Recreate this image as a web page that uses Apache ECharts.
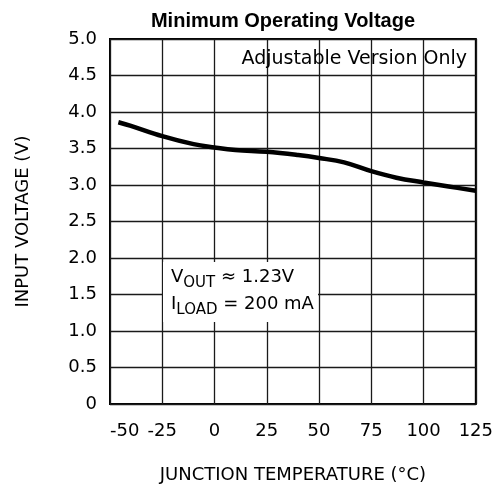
<!DOCTYPE html>
<html>
<head>
<meta charset="utf-8">
<script src="https://cdn.jsdelivr.net/npm/echarts@6/dist/echarts.min.js"></script>
<style>html,body{margin:0;padding:0;background:#fff}#c{width:496px;height:492px}</style>
</head>
<body>
<div id="c"></div>
<script>
var temperature = [-46, -40, -25, -10, 0, 10, 25, 40, 50, 62, 75, 87, 100, 112, 125];
var inputVoltage = [3.86, 3.81, 3.67, 3.56, 3.515, 3.48, 3.455, 3.41, 3.37, 3.31, 3.19, 3.10, 3.035, 2.98, 2.92];
var xTicks = [-50, -25, 0, 25, 50, 75, 100, 125];
var yTicks = [0, 0.5, 1.0, 1.5, 2.0, 2.5, 3.0, 3.5, 4.0, 4.5, 5.0];

var thin = 'DejaVu Sans';
var chart = echarts.init(document.getElementById('c'));
var pts = temperature.map(function (t, i) { return [t, inputVoltage[i]]; });
chart.setOption({
  animation: false,
  title: {
    text: 'Minimum Operating Voltage',
    left: 278, top: 6, textAlign: 'center',
    textStyle: { fontFamily: 'Liberation Sans', fontWeight: 'bold', fontSize: 20, color: '#000' }
  },
  grid: { left: 110, right: 20, top: 39, bottom: 88, show: true, borderColor: '#000', borderWidth: 2, backgroundColor: 'transparent' },
  xAxis: {
    type: 'value', min: -50, max: 125, interval: 25,
    name: 'JUNCTION TEMPERATURE (°C)', nameLocation: 'middle', nameGap: 62,
    nameTextStyle: { fontFamily: thin, fontSize: 18, color: '#000' },
    axisLine: { show: false }, axisTick: { show: false },
    axisLabel: { fontFamily: thin, fontSize: 18, color: '#000', margin: 18, alignMinLabel: 'left',
      formatter: function (v) { return xTicks.indexOf(v) >= 0 ? String(v) : ''; } },
    splitLine: { show: true, lineStyle: { color: '#1a1a1a', width: 1.3 } }
  },
  yAxis: {
    type: 'value', min: 0, max: 5, interval: 0.5,
    name: 'INPUT VOLTAGE (V)', nameLocation: 'middle', nameGap: 78,
    nameTextStyle: { fontFamily: thin, fontSize: 18, color: '#000' },
    axisLine: { show: false }, axisTick: { show: false },
    axisLabel: { fontFamily: thin, fontSize: 18, color: '#000', margin: 13,
      formatter: function (v) { return v === 0 ? '0' : v.toFixed(1); } },
    splitLine: { show: true, lineStyle: { color: '#1a1a1a', width: 1.3 } }
  },
  series: [{
    type: 'line', data: pts, smooth: 0.4, showSymbol: false,
    lineStyle: { color: '#000', width: 4.5 }
  }],
  graphic: [
    { type: 'text', x: 467, y: 59, z: 10,
      style: { text: 'Adjustable Version Only', fontFamily: thin, fontSize: 19, fill: '#000', align: 'right', verticalAlign: 'middle' } },
    { type: 'rect', shape: { x: 163, y: 262, width: 155, height: 60 }, z: 9,
      style: { fill: '#fff' } },
    { type: 'text', x: 171, y: 264, z: 10,
      style: {
        text: '{v|V}{s|OUT}{v| ≈ 1.23V}\n{v|I}{s|LOAD}{v| = 200 mA}',
        align: 'left', verticalAlign: 'top',
        rich: {
          v: { fontFamily: thin, fontSize: 18, lineHeight: 27, fill: '#000' },
          s: { fontFamily: thin, fontSize: 15, lineHeight: 15, verticalAlign: 'bottom', fill: '#000' }
        }
      } }
  ]
});
</script>
</body>
</html>
